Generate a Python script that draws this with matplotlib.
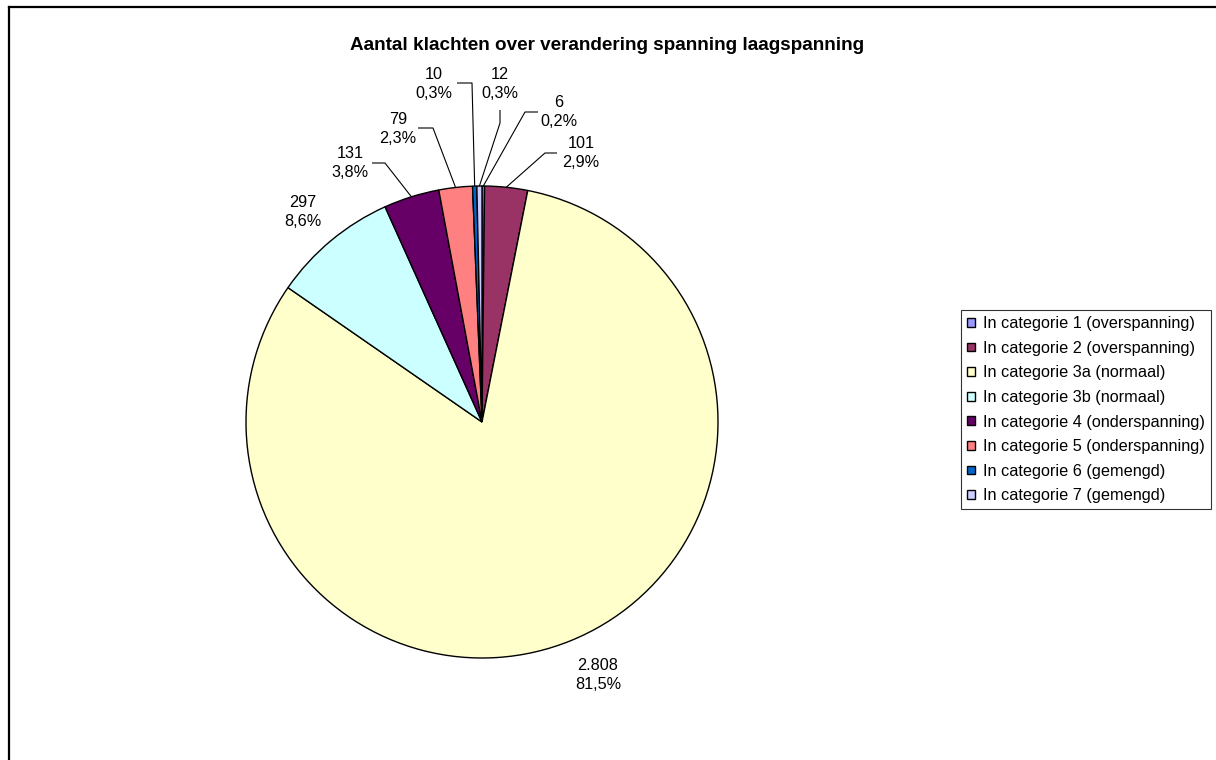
import matplotlib
matplotlib.use("Agg")
import matplotlib.pyplot as plt
import numpy as np

plt.rcParams['font.family'] = ['Liberation Sans', 'DejaVu Sans']

# ---- data ----
categories = [
    "In categorie 1 (overspanning)",
    "In categorie 2 (overspanning)",
    "In categorie 3a (normaal)",
    "In categorie 3b (normaal)",
    "In categorie 4 (onderspanning)",
    "In categorie 5 (onderspanning)",
    "In categorie 6 (gemengd)",
    "In categorie 7 (gemengd)",
]
counts = [6, 101, 2808, 297, 131, 79, 10, 12]
title = "Aantal klachten over verandering spanning laagspanning"

# ---- style ----
colors = ["#9999FF", "#993366", "#FFFFCC", "#CCFFFF", "#660066", "#FF8080", "#0066CC", "#CCCCFF"]
W, H = 1216, 760
# label block centres (pixels, y downward)
label_pos = [(559, 112), (581, 153), (598, 675), (303, 212), (350, 163), (398, 129), (434, 84), (500, 84)]
# leader start segments (pixels), None = no leader
leader_start = [
    [(538, 112), (525, 112)],
    [(557, 153), (545, 153)],
    None,
    None,
    [(372, 163), (385, 163)],
    [(418, 128), (433, 128)],
    [(457, 83), (472, 83)],
    [(500, 110), (500, 123)],
]
FS = 11.7

fig = plt.figure(figsize=(W / 100, H / 100), dpi=100)
fig.patch.set_facecolor("white")

# overlay in pixel coordinates
ov = fig.add_axes([0, 0, 1, 1])
ov.set_xlim(0, W)
ov.set_ylim(H, 0)
ov.axis("off")

# pie axes
cx, cy, r = 482, 422, 236
ax = fig.add_axes([(cx - r) / W, (H - cy - r) / H, 2 * r / W, 2 * r / H])
wedges, _ = ax.pie(counts, colors=colors, startangle=90, counterclock=False,
                   wedgeprops=dict(edgecolor="black", linewidth=1.0))
ax.set_xlim(-1, 1)
ax.set_ylim(-1, 1)
ax.set_aspect("equal")

total = sum(counts)

def fmt_int(v):
    return f"{v:,}".replace(",", ".")

to_ov = ov.transData.inverted()
for i, (w, v) in enumerate(zip(wedges, counts)):
    pct = f"{100 * v / total:.1f}".replace(".", ",") + "%"
    lx, ly = label_pos[i]
    ov.text(lx, ly, f"{fmt_int(v)}\n{pct}", ha="center", va="center",
            fontsize=FS, linespacing=1.3, color="black")
    if leader_start[i] is not None:
        mid = np.deg2rad((w.theta1 + w.theta2) / 2)
        disp = ax.transData.transform((np.cos(mid), np.sin(mid)))
        ex, ey = to_ov.transform(disp)
        pts = leader_start[i] + [(ex, ey)]
        xs, ys = zip(*pts)
        ov.plot(xs, ys, color="black", linewidth=0.8, solid_capstyle="butt")

# title
ov.text(607, 46, title, ha="center", va="center", fontsize=13.6, fontweight="bold")

# outer frame
ov.plot([9, 9], [H, 7], color="black", linewidth=1.6, solid_capstyle="projecting")
ov.plot([9, W], [7, 7], color="black", linewidth=1.6, solid_capstyle="projecting")

leg = fig.legend(wedges, categories, loc="upper left",
                 bbox_to_anchor=(961 / W, 1 - 310 / H), bbox_transform=fig.transFigure,
                 fontsize=FS, frameon=True, fancybox=False, shadow=False,
                 handlelength=0.5, handleheight=0.45, handletextpad=0.5,
                 labelspacing=0.59, borderpad=0.38, borderaxespad=0)
leg.get_frame().set_edgecolor("black")
leg.get_frame().set_linewidth(0.8)
for h in leg.legend_handles:
    h.set_linewidth(1.0)

fig.savefig("out.png", dpi=100, facecolor="white")
